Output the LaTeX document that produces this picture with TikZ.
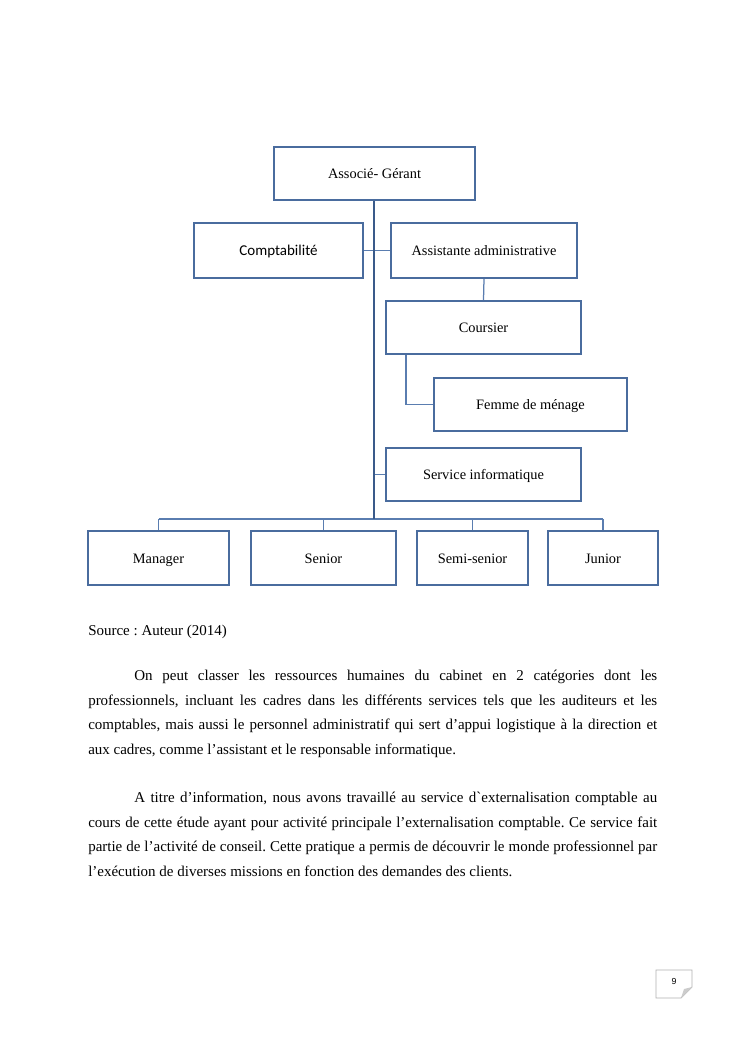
\documentclass[tikz,border=0pt]{standalone}
\usepackage{fontspec}
\setmainfont{Liberation Serif}
\newfontfamily\calib{Carlito}
\newfontfamily\pgsans{Liberation Sans}
\definecolor{boxblue}{HTML}{4A6C9E}
\definecolor{lineblue}{HTML}{5A7DB0}
\definecolor{trunkblue}{HTML}{3A5A8A}
\frenchspacing
\begin{document}
\begin{tikzpicture}[x=0.8pt,y=-0.8pt,
  box/.style={draw=boxblue,line width=1.7pt,fill=white,inner sep=0pt,text height=9.5pt,text depth=1pt,font=\fontsize{11.5}{13}\selectfont},
  conn/.style={draw=lineblue,line width=1pt},
  trunk/.style={draw=trunkblue,line width=2pt},
  para/.style={anchor=north west,inner sep=0pt,text width=455.2pt,align=justify,font=\fontsize{12}{19.6}\selectfont}
]
\useasboundingbox[fill=white] (0,0) rectangle (745,1053);
% boxes
\node[box,minimum width=201*0.8pt,minimum height=53*0.8pt] (ag) at (374.5,173.5) {Associé- Gérant};
\node[box,minimum width=169*0.8pt,minimum height=55*0.8pt,font=\calib\fontsize{12}{13}\selectfont] (compta) at (278.5,250.5) {Comptabilité};
\node[box,minimum width=186*0.8pt,minimum height=55*0.8pt] (assist) at (484,250.5) {Assistante administrative};
\node[box,minimum width=195*0.8pt,minimum height=53*0.8pt] (cours) at (483.5,327.5) {Coursier};
\node[box,minimum width=193*0.8pt,minimum height=53*0.8pt] (femme) at (530.5,404.5) {Femme de ménage};
\node[box,minimum width=195*0.8pt,minimum height=53*0.8pt] (si) at (483.5,474.5) {Service informatique};
\node[box,minimum width=141*0.8pt,minimum height=54*0.8pt] (man) at (158.5,558) {Manager};
\node[box,minimum width=145*0.8pt,minimum height=54*0.8pt] (sen) at (323.5,558) {Senior};
\node[box,minimum width=111*0.8pt,minimum height=54*0.8pt] (semi) at (472.5,558) {Semi-senior};
\node[box,minimum width=110*0.8pt,minimum height=54*0.8pt] (jun) at (603,558) {Junior};
% coordinates
\coordinate (bus) at (374,519);
\coordinate (busL) at (158.5,519);
\coordinate (busR) at (603,519);
\coordinate (ck) at (406,354);
\coordinate (sij) at (374,474.5);
% connectors
\draw[conn] (compta.east) -- (assist.west);
\draw[conn] (assist.south) -- (cours.north);
\draw[conn] (ck |- cours.south) |- (femme.west);
\draw[conn] (sij) -- (si.west);
\draw[conn] (busL) -- (busR);
\draw[conn] (busL) -- (man.north);
\draw[conn] (sen.north |- bus) -- (sen.north);
\draw[conn] (semi.north |- bus) -- (semi.north);
\draw[conn] (busR) -- (jun.north);
\draw[trunk] (ag.south -| bus) -- (bus);
% text
\node[anchor=west,inner sep=0pt,font=\fontsize{12}{14}\selectfont] (src) at (88,632) {Source : Auteur (2014)};
\node[para] (p1) at (88,670) {\hspace*{36.8pt}On peut classer les ressources humaines du cabinet en 2 catégories dont les\linebreak professionnels, incluant les cadres dans les différents services tels que les auditeurs et les\linebreak comptables, mais aussi le personnel administratif qui sert d’appui logistique à la direction et\linebreak aux cadres, comme l’assistant et le responsable informatique.};
\node[para] (p2) at (88,792) {\hspace*{36.8pt}A titre d’information, nous avons travaillé au service d\textasciigrave externalisation comptable au\linebreak cours de cette étude ayant pour activité principale l’externalisation comptable. Ce service fait\linebreak partie de l’activité de conseil. Cette pratique a permis de découvrir le monde professionnel par\linebreak l’exécution de diverses missions en fonction des demandes des clients.};
% page number
\draw[gray!60,line width=0.6pt,fill=white] (656,970) -- (692,970) -- (692,987) -- (681,998) -- (656,998) -- cycle;
\fill[gray!40] (692,987) -- (681,998) -- (684,989) -- cycle;
\node[font=\pgsans\fontsize{7}{8}\selectfont,inner sep=0pt] (pg) at (674,981) {9};
\end{tikzpicture}
\end{document}
